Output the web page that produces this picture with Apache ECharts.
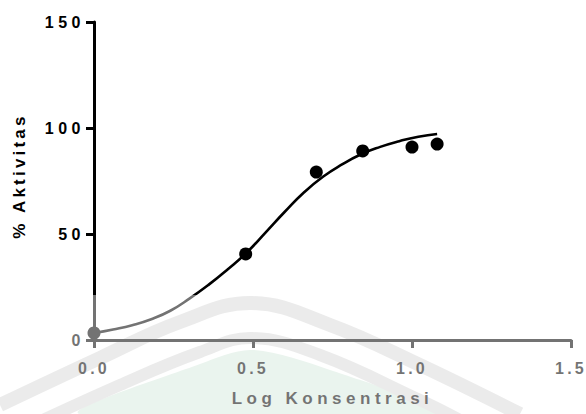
<!DOCTYPE html>
<html>
<head>
<meta charset="utf-8">
<script src="https://cdn.jsdelivr.net/npm/echarts@6/dist/echarts.min.js"></script>
<style>
  html, body { margin: 0; padding: 0; background: #fff; }
  #chart { width: 586px; height: 414px; }
</style>
</head>
<body>
<div id="chart"></div>
<script>
// measured points (log concentration, % activity)
const pointX = [0, 0.477, 0.699, 0.845, 1.0, 1.079];
const pointY = [3.3, 40.6, 79.2, 89.2, 91.0, 92.4];

// fitted curve
const curveX = [0, 0.06, 0.12, 0.18, 0.24, 0.30, 0.36, 0.42, 0.48, 0.54, 0.60, 0.66, 0.72, 0.78, 0.84, 0.90, 0.96, 1.02, 1.079];
const curveY = [3.3, 5.0, 7.0, 9.8, 13.8, 19.5, 26.0, 33.3, 41.2, 50.8, 60.5, 69.6, 77.0, 82.8, 87.6, 91.1, 93.8, 95.9, 97.2];

const xTicks = [0, 0.5, 1.0, 1.5];
const yTicks = [0, 50, 100, 150];

const font = "'Liberation Sans', Arial, sans-serif";

const chart = echarts.init(document.getElementById('chart'), null, { renderer: 'svg' });

const pts = pointX.map((x, i) => [x, pointY[i]]);
const curve = curveX.map((x, i) => [x, curveY[i]]);

chart.setOption({
  animation: false,
  backgroundColor: '#fff',
  grid: { left: 94, right: 15, top: 22, bottom: 74, outerBoundsMode: 'none' },
  xAxis: {
    type: 'value',
    min: xTicks[0],
    max: xTicks[xTicks.length - 1],
    interval: 0.5,
    name: 'Log Konsentrasi',
    nameLocation: 'middle',
    nameGap: 50,
    nameTextStyle: { fontFamily: font, fontWeight: 'bold', fontSize: 17, color: '#000' },
    axisLine: { show: true, onZero: false, lineStyle: { color: '#000', width: 3 } },
    axisTick: { show: true, length: 8, lineStyle: { color: '#000', width: 3 } },
    axisLabel: {
      margin: 20,
      fontFamily: font, fontWeight: 'bold', fontSize: 16, color: '#000',
      formatter: v => v.toFixed(1)
    },
    splitLine: { show: false }
  },
  yAxis: {
    type: 'value',
    min: yTicks[0],
    max: yTicks[yTicks.length - 1],
    interval: 50,
    name: '% Aktivitas',
    nameLocation: 'middle',
    nameGap: 66,
    nameTextStyle: {
      fontFamily: font, fontWeight: 'bold', fontSize: 17, color: '#000',
      padding: [0, 0, 0, 10]
    },
    axisLine: { show: true, lineStyle: { color: '#000', width: 3 } },
    axisTick: { show: true, length: 8, lineStyle: { color: '#000', width: 3 } },
    axisLabel: { margin: 9, fontFamily: font, fontWeight: 'bold', fontSize: 16, color: '#000' },
    splitLine: { show: false }
  },
  graphic: [
    // faint watermark in the lower half
    {
      type: 'polygon', z: -10, silent: true,
      shape: { points: [[80, 414], [200, 364], [252, 350], [330, 370], [440, 414]], smooth: 0.3 },
      style: { fill: '#d9ebe0' }
    },
    {
      type: 'polyline', z: -9, silent: true,
      shape: { points: [[0, 405], [100, 358], [180, 322], [252, 303], [330, 325], [420, 365], [520, 414]], smooth: 0.4 },
      style: { stroke: '#dbdbdb', lineWidth: 14, fill: null }
    },
    {
      type: 'polyline', z: -9, silent: true,
      shape: { points: [[0, 440], [120, 385], [200, 352], [252, 338], [320, 355], [420, 400], [460, 420]], smooth: 0.4 },
      style: { stroke: '#dbdbdb', lineWidth: 12, fill: null }
    },
    // whitish veil over the bottom part of the picture
    {
      type: 'rect', z: 100, silent: true,
      shape: { x: 0, y: 295, width: 586, height: 119 },
      style: { fill: 'rgba(255,255,255,0.45)' }
    }
  ],
  series: [
    {
      type: 'line',
      data: curve,
      smooth: 0.5,
      showSymbol: false,
      lineStyle: { color: '#000', width: 2.6 },
      z: 2
    },
    {
      type: 'scatter',
      data: pts,
      symbolSize: 13,
      itemStyle: { color: '#000', opacity: 1 },
      z: 3
    }
  ]
});

// wide letter spacing like the original
function applySpacing() {
  document.querySelectorAll('#chart text').forEach(t => {
    const s = t.textContent;
    let ls = '3.2px';
    if (s === '% Aktivitas') ls = '3.2px';
    else if (s === 'Log Konsentrasi') ls = '4.5px';
    else if (/^\d+$/.test(s)) ls = '4.5px';
    t.style.letterSpacing = ls;
  });
}
applySpacing();
chart.on('finished', applySpacing);
</script>
</body>
</html>
